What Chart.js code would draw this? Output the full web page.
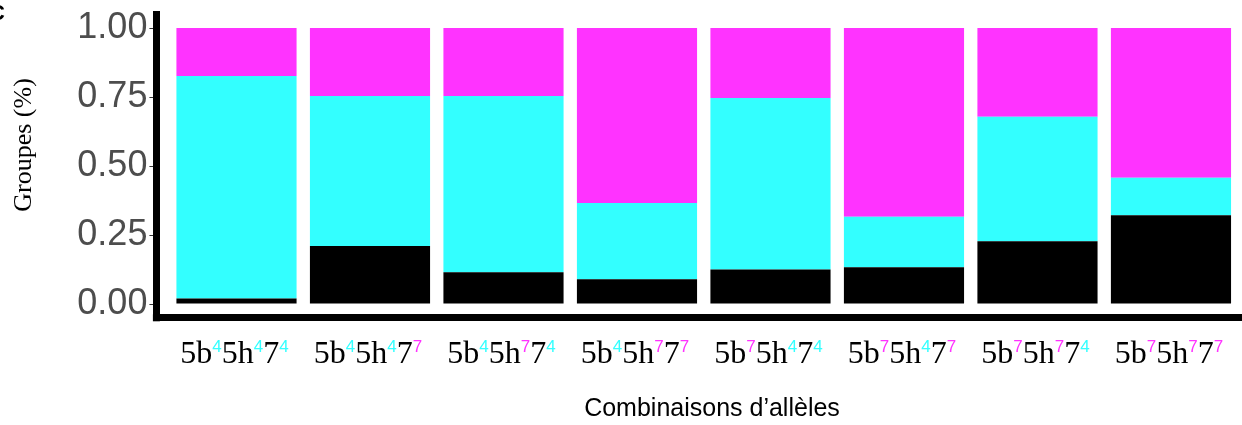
<!DOCTYPE html>
<html>
<head>
<meta charset="utf-8">
<script src="https://cdn.jsdelivr.net/npm/chart.js@4/dist/chart.umd.min.js"></script>
<style>
  html, body { margin: 0; padding: 0; background: #fff; }
  #wrap { width: 1242px; height: 425px; position: relative; }
</style>
</head>
<body>
<div id="wrap"><canvas id="chart"></canvas></div>
<script>
// allele of each locus for the 8 combinations
const allele5b = ['4', '4', '4', '4', '7', '7', '7', '7'];
const allele5h = ['4', '4', '7', '7', '4', '4', '7', '7'];
const allele7  = ['4', '7', '4', '7', '4', '7', '4', '7'];

// group shares per combination
const groupBlack   = [0.020, 0.210, 0.115, 0.090, 0.125, 0.133, 0.227, 0.322];
const groupCyan    = [0.806, 0.544, 0.639, 0.276, 0.621, 0.183, 0.451, 0.135];
const groupMagenta = [0.174, 0.246, 0.246, 0.634, 0.254, 0.684, 0.322, 0.543];

const yTicks = [0, 0.25, 0.5, 0.75, 1];
const yTitle = 'Groupes (%)';
const xTitle = 'Combinaisons d\u2019all\u00e8les';

const CYAN = '#33FFFF', MAGENTA = '#FF33FF';
const alleleColor = a => a === '4' ? CYAN : MAGENTA;

const positions = allele5b.map((_, i) => i + 1);
const toPoints = arr => arr.map((v, i) => ({ x: positions[i], y: v }));

// --- custom text: rich x labels, titles ---
const textPlugin = {
  id: 'textPlugin',
  afterDraw(chart) {
    const ctx = chart.ctx;
    const xs = chart.scales.x;
    ctx.save();
    ctx.textBaseline = 'alphabetic';
    ctx.textAlign = 'left';
    const mainFont = "32px 'Liberation Serif'";
    const supFont = "17px 'Liberation Sans'";
    positions.forEach((p, i) => {
      const parts = [
        { t: '5b', f: mainFont, c: '#000', sup: false },
        { t: allele5b[i], f: supFont, c: alleleColor(allele5b[i]), sup: true },
        { t: '5h', f: mainFont, c: '#000', sup: false },
        { t: allele5h[i], f: supFont, c: alleleColor(allele5h[i]), sup: true },
        { t: '7', f: mainFont, c: '#000', sup: false },
        { t: allele7[i], f: supFont, c: alleleColor(allele7[i]), sup: true }
      ];
      let total = 0;
      parts.forEach(s => { ctx.font = s.f; s.w = ctx.measureText(s.t).width; total += s.w; });
      let x = xs.getPixelForValue(p) - total / 2 - 2;
      parts.forEach(s => {
        ctx.font = s.f;
        ctx.fillStyle = s.c;
        ctx.fillText(s.t, x, s.sup ? 351.5 : 363);
        x += s.w;
      });
    });

    // x title
    ctx.font = "25px 'Liberation Sans'";
    ctx.fillStyle = '#000';
    ctx.textAlign = 'center';
    ctx.fillText(xTitle, 712, 416);

    // y title (rotated)
    ctx.save();
    ctx.translate(31, 145);
    ctx.rotate(-Math.PI / 2);
    ctx.font = "26px 'Liberation Serif'";
    ctx.fillText(yTitle, 0, 0);
    ctx.restore();

    // panel letter, cut off at the left edge
    ctx.textAlign = 'left';
    ctx.font = "bold 22px 'Liberation Sans'";
    ctx.fillText('C', -11, 20);

    // close the axis corner
    const a = chart.chartArea;
    ctx.fillStyle = '#000';
    ctx.fillRect(a.left - 3.5, a.bottom - 3.5, 7, 7);
    ctx.restore();
  }
};

new Chart(document.getElementById('chart'), {
  type: 'bar',
  data: {
    datasets: [
      { label: 'noir', data: toPoints(groupBlack), backgroundColor: '#000000' },
      { label: 'cyan', data: toPoints(groupCyan), backgroundColor: CYAN },
      { label: 'magenta', data: toPoints(groupMagenta), backgroundColor: MAGENTA }
    ]
  },
  options: {
    responsive: true,
    maintainAspectRatio: false,
    animation: false,
    layout: { padding: { top: 14.2, left: 0, right: 0, bottom: 0 } },
    categoryPercentage: 1.0,
    barPercentage: 0.9,
    plugins: { legend: { display: false }, tooltip: { enabled: false } },
    scales: {
      x: {
        type: 'linear',
        offset: false,
        stacked: true,
        min: 0.4,
        max: 8.532,
        afterBuildTicks: s => { s.ticks = positions.map(v => ({ value: v })); },
        afterFit: s => { s.height = 107.2; s.paddingLeft = 0; s.paddingRight = 0; },
        grid: { offset: false, drawOnChartArea: false, drawTicks: false },
        border: { display: true, width: 7, color: '#000' },
        ticks: { display: false }
      },
      y: {
        stacked: true,
        min: -0.05,
        max: 1.05,
        afterBuildTicks: s => { s.ticks = yTicks.map(v => ({ value: v })); },
        afterFit: s => { s.width = 156.4; s.paddingTop = 0; s.paddingBottom = 0; },
        grid: { drawOnChartArea: false, drawTicks: true, tickLength: 7, tickWidth: 1, tickColor: '#333' },
        border: { display: true, width: 7, color: '#000' },
        ticks: {
          padding: 2,
          color: '#4D4D4D',
          font: { family: 'Liberation Sans', size: 36 },
          callback: v => Number(v).toFixed(2)
        }
      }
    }
  },
  plugins: [textPlugin]
});
</script>
</body>
</html>
